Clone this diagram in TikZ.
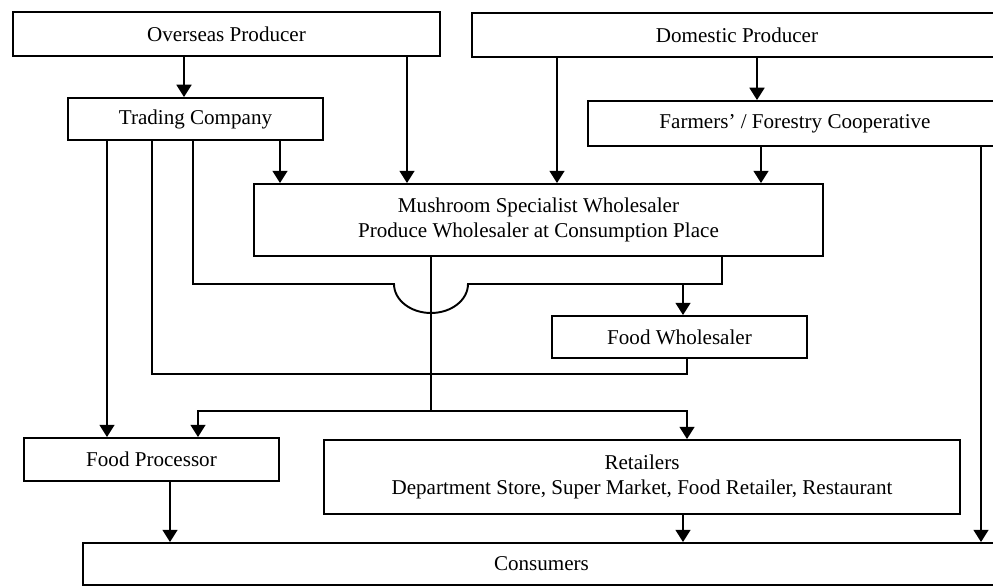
\documentclass[tikz,border=0pt]{standalone}
\usepackage{fontspec}
\setmainfont{Liberation Serif}
\usepackage{tikz}
\usetikzlibrary{arrows.meta}

\begin{document}
\begin{tikzpicture}[x=0.02cm,y=-0.02cm,line width=1.1pt,
    box/.style={draw,rectangle,inner sep=0pt,align=center,font=\fontsize{12}{14.2}\selectfont},
    arr/.style={-{Triangle[width=8.5pt,length=7pt]}}]
    \useasboundingbox (0,0) rectangle (993,586);
    \clip (0,0) rectangle (993,586);
    \node[box,minimum width=8.54cm,minimum height=0.88cm] (op) at (226.5,34) {Overseas Producer};
    \node[box,minimum width=10.6cm,minimum height=0.88cm] (dp) at (737,35) {Domestic Producer};
    \node[box,minimum width=5.1cm,minimum height=0.84cm] (tc) at (195.5,119) {Trading Company};
    \node[box,minimum width=8.28cm,minimum height=0.9cm] (fc) at (795,123.5) {Farmers' / Forestry Cooperative};
    \node[box,minimum width=11.38cm,minimum height=1.44cm] (msw) at (538.5,220) {Mushroom Specialist Wholesaler\\Produce Wholesaler at Consumption Place};
    \node[box,minimum width=5.1cm,minimum height=0.84cm] (fw) at (679.5,337) {Food Wholesaler};
    \node[box,minimum width=5.1cm,minimum height=0.86cm] (fp) at (151.5,459.5) {Food Processor};
    \node[box,minimum width=12.72cm,minimum height=1.48cm] (ret) at (642,477) {Retailers\\Department Store, Super Market, Food Retailer, Restaurant};
    \node[box,minimum width=18.34cm,minimum height=0.84cm] (con) at (541.5,564) {Consumers};
    \foreach \x/\a/\b in {184/op/tc,407/op/msw,557/dp/msw,757/dp/fc,761/fc/msw,
      280/tc/msw,107/tc/fp,981/fc/con,170/fp/con,683/ret/con} {
      \draw[arr] (\a.south -| \x,0) to (\b.north -| \x,0);
    }
    \coordinate (split) at (431,411);
    \draw (tc.south -| 193,0) to (193,284) to (394,284)
      arc[start angle=180,end angle=360,x radius=0.74cm,y radius=0.58cm]
      to (722,284) to (msw.south -| 722,0);
    \draw[arr] (683,284) to (fw.north -| 683,0);
    \draw (tc.south -| 152,0) to (152,374) to (687,374) to (fw.south -| 687,0);
    \draw (msw.south -| split) to (split);
    \draw[arr] (split) -| (fp.north -| 198,0);
    \draw[arr] (split) -| (ret.north -| 687,0);
  \end{tikzpicture}
\end{document}
